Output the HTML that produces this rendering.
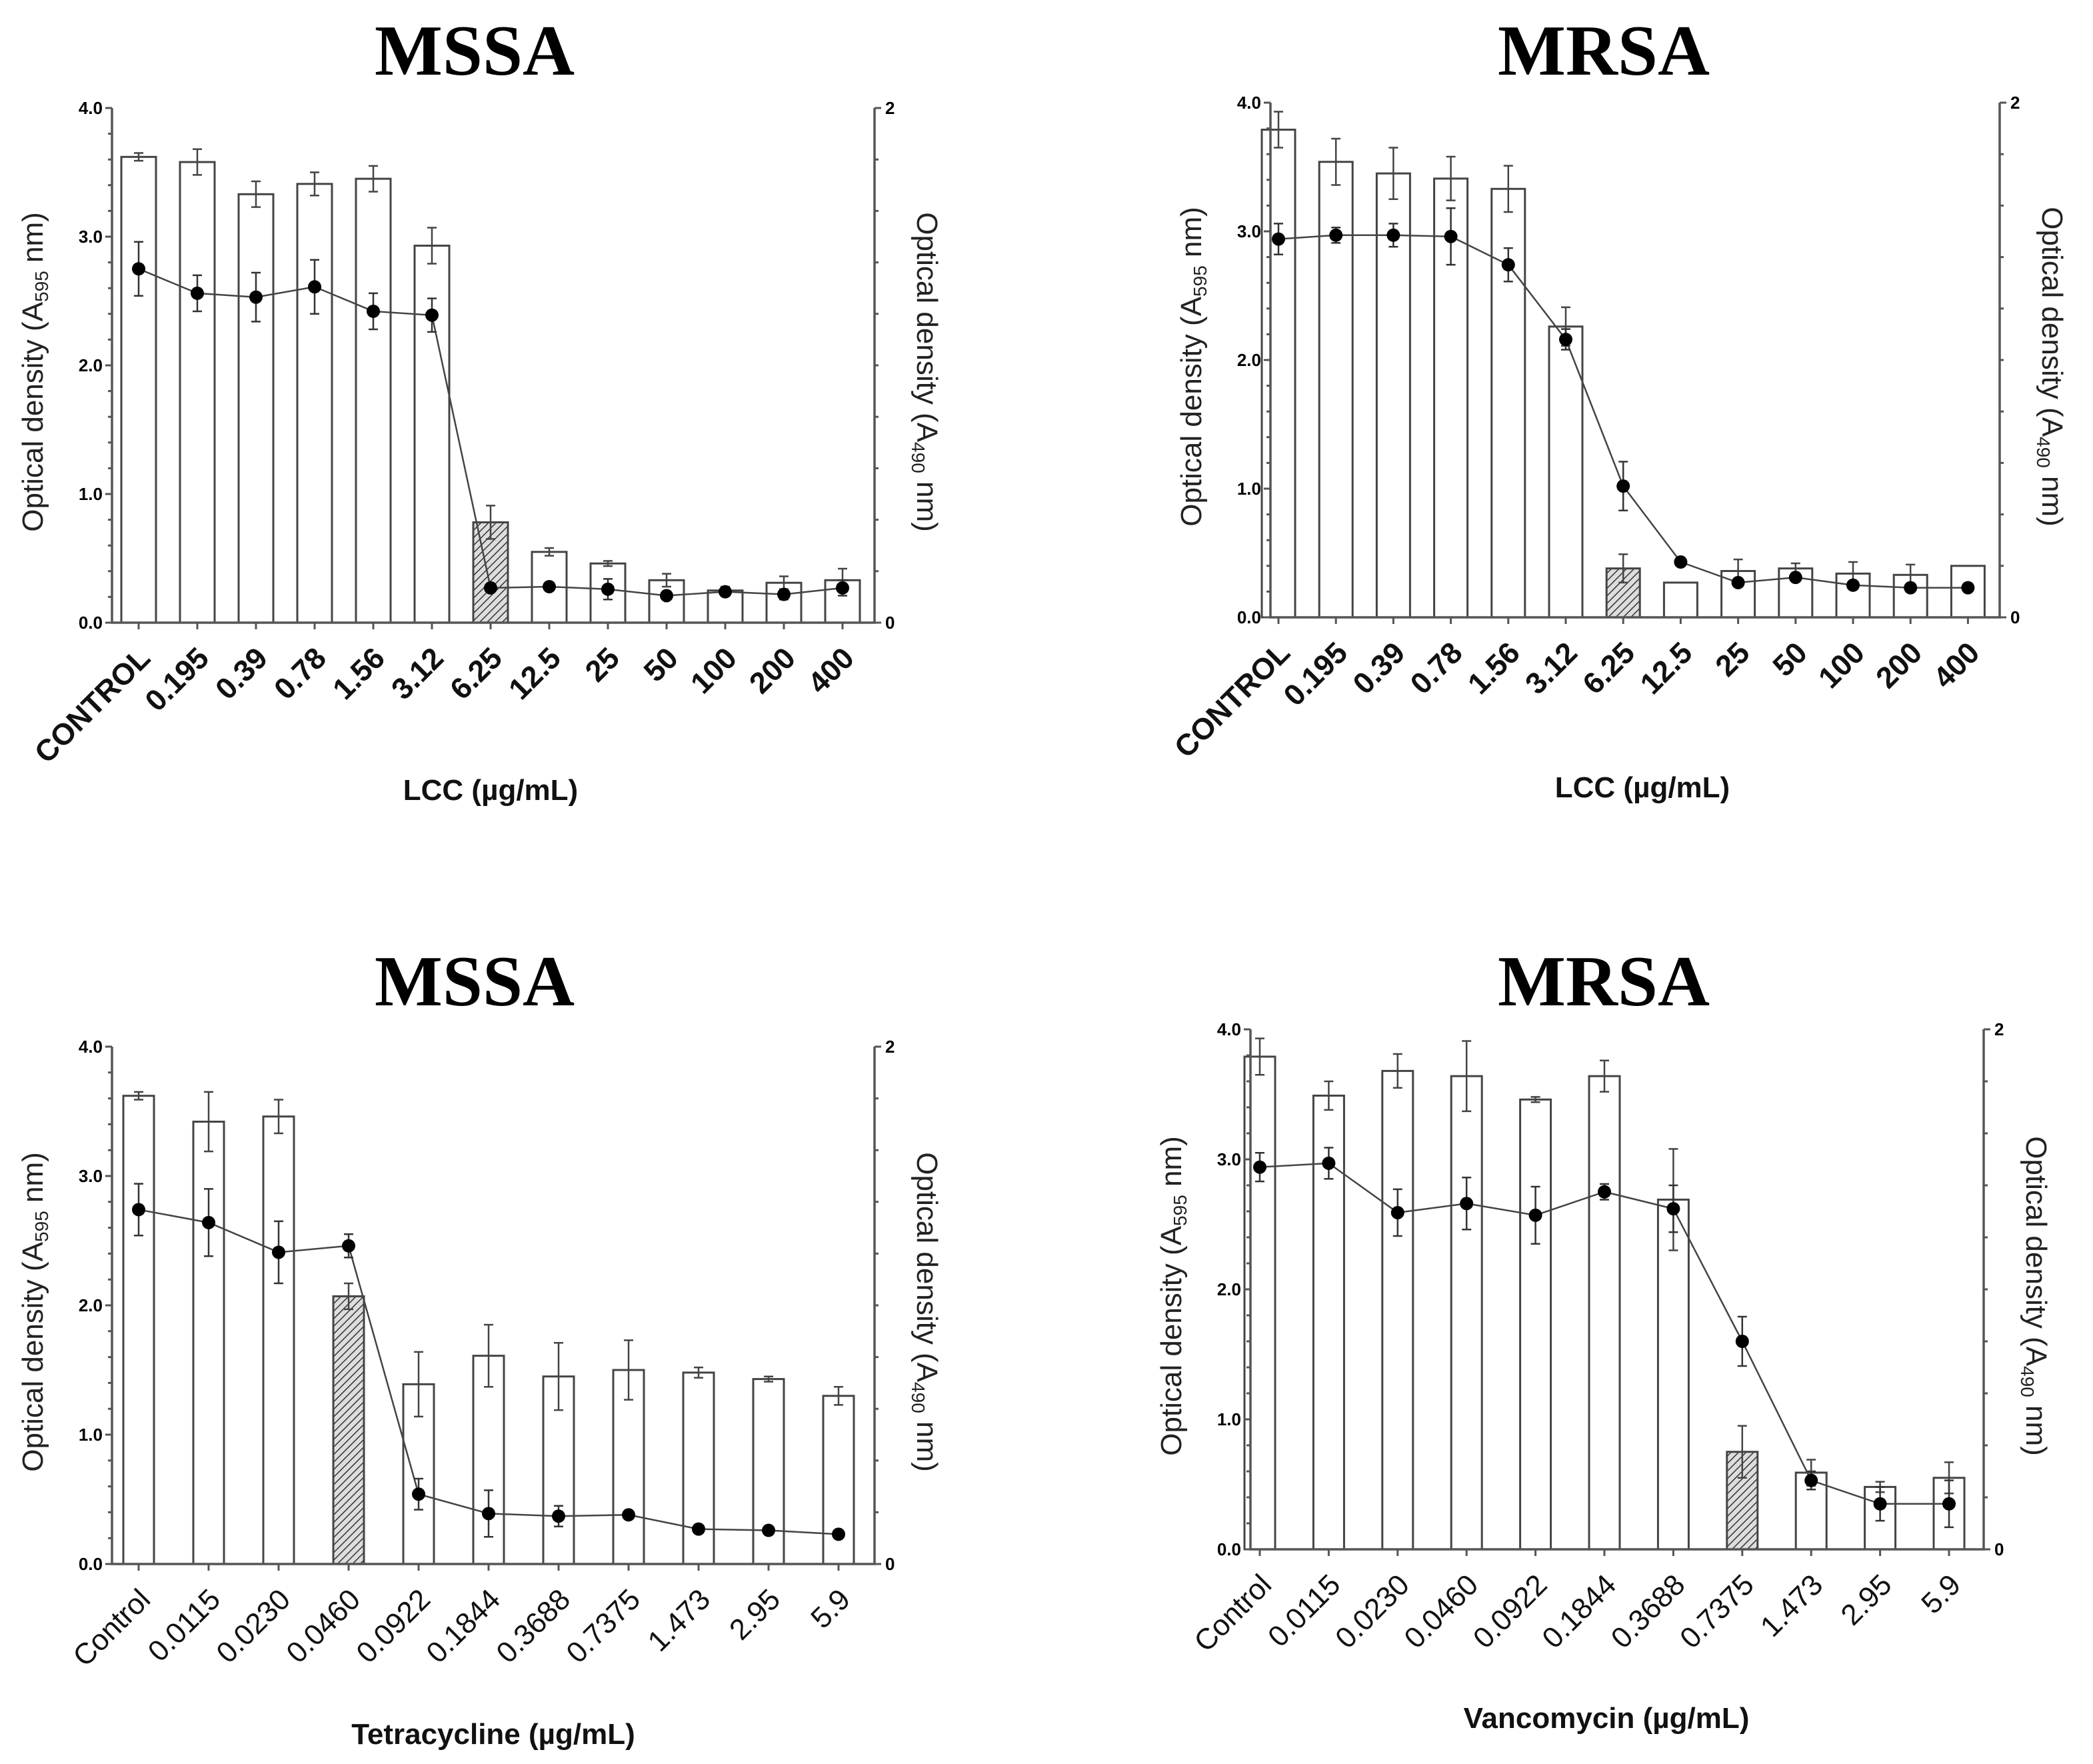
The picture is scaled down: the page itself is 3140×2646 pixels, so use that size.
<!DOCTYPE html>
<html><head><meta charset="utf-8"><style>
html,body{margin:0;padding:0;background:#fff}
svg{display:block}
</style></head><body>
<svg id="fig" width="3140" height="2646" viewBox="0 0 3140 2646" xmlns="http://www.w3.org/2000/svg">
<defs>
<pattern id="hatch" patternUnits="userSpaceOnUse" width="8" height="8" patternTransform="rotate(45)">
<rect width="8" height="8" fill="#ddd"/><line x1="0" y1="0" x2="0" y2="8" stroke="#333" stroke-width="3"/>
</pattern>
</defs>
</svg>
<script>
// ---- data ----
const catsLCC = ["CONTROL","0.195","0.39","0.78","1.56","3.12","6.25","12.5","25","50","100","200","400"];
const catsAntibiotic = ["Control","0.0115","0.0230","0.0460","0.0922","0.1844","0.3688","0.7375","1.473","2.95","5.9"];

const barsTL = [3.62,3.58,3.33,3.41,3.45,2.93,0.78,0.55,0.46,0.33,0.25,0.31,0.33];
const barErrTL = [0.03,0.1,0.1,0.09,0.1,0.14,0.13,0.03,0.02,0.05,0.03,0.05,0.09];
const lineTL = [1.375,1.28,1.265,1.305,1.21,1.195,0.135,0.14,0.13,0.105,0.12,0.11,0.135];
const lineErrTL = [0.105,0.07,0.095,0.105,0.07,0.065,0.01,0.01,0.04,0.01,0.01,0.02,0.03];

const barsTR = [3.79,3.54,3.45,3.41,3.33,2.26,0.38,0.27,0.36,0.38,0.34,0.33,0.4];
const barErrTR = [0.14,0.18,0.2,0.17,0.18,0.15,0.11,0,0.09,0.04,0.09,0.08,0];
const lineTR = [1.47,1.485,1.485,1.48,1.37,1.08,0.51,0.215,0.135,0.155,0.125,0.115,0.115];
const lineErrTR = [0.06,0.03,0.045,0.11,0.065,0.04,0.095,0,0.01,0.01,0.01,0.01,0];

const barsBL = [3.62,3.42,3.46,2.07,1.39,1.61,1.45,1.5,1.48,1.43,1.3];
const barErrBL = [0.03,0.23,0.13,0.1,0.25,0.24,0.26,0.23,0.04,0.02,0.07];
const lineBL = [1.37,1.32,1.205,1.23,0.27,0.195,0.185,0.19,0.135,0.13,0.115];
const lineErrBL = [0.1,0.13,0.12,0.045,0.06,0.09,0.04,0.01,0,0,0];

const barsBR = [3.79,3.49,3.68,3.64,3.46,3.64,2.69,0.75,0.59,0.48,0.55];
const barErrBR = [0.14,0.11,0.13,0.27,0.02,0.12,0.39,0.2,0.1,0.04,0.12];
const lineBR = [1.47,1.485,1.295,1.33,1.285,1.375,1.31,0.8,0.265,0.175,0.175];
const lineErrBR = [0.055,0.06,0.09,0.1,0.11,0.03,0.09,0.095,0.035,0.065,0.09];

const leftTicks = ["0.0","1.0","2.0","3.0","4.0"];
const rightTicks = ["0","2"];

const NS="http://www.w3.org/2000/svg";
const svg=document.getElementById('fig');
function mk(tag,attrs,parent){const e=document.createElementNS(NS,tag);for(const k in attrs)e.setAttribute(k,attrs[k]);(parent||svg).appendChild(e);return e;}

function drawChart(o){
  const g=mk('g',{});
  
  
  const yL=v=>o.yBot-(v/4)*(o.yBot-o.yTop);
  const yR=v=>o.yBot-(v/2)*(o.yBot-o.yTop);
  const xC=i=>o.first+i*o.step;
  const t=mk('text',{x:o.titleX,y:o.titleY,'text-anchor':'middle','font-family':'Liberation Serif, serif','font-weight':'bold','font-size':108,fill:'#000'},g);
  t.textContent=o.title;
  
  
  o.cats.forEach((c,i)=>{
    const v=o.bars[i],e=o.barErr[i],x=xC(i);
    const r=mk('rect',{x:x-o.bw/2,y:yL(v),width:o.bw,height:o.yBot-yL(v),fill:i===o.hatch?'url(#hatch)':'#fff',stroke:'#444','stroke-width':3},g);
    
    
    if(e>0){
      const p=mk('path',{d:`M${x},${yL(v+e)}V${yL(v-e)}M${x-7},${yL(v+e)}H${x+7}M${x-7},${yL(v-e)}H${x+7}`,stroke:'#444','stroke-width':2.5,fill:'none'},g);
      
      
    }
  });
  let d='';
  o.line.forEach((v,i)=>{d+=(i?'L':'M')+xC(i)+','+yR(v);});
  const ln=mk('path',{d:d,stroke:'#444','stroke-width':2.5,fill:'none'},g);
  
  
  o.line.forEach((v,i)=>{
    const e=o.lineErr[i],x=xC(i);
    if(e>0){
      const p=mk('path',{d:`M${x},${yR(v+e)}V${yR(v-e)}M${x-7},${yR(v+e)}H${x+7}M${x-7},${yR(v-e)}H${x+7}`,stroke:'#333','stroke-width':2.5,fill:'none'},g);
      
      
    }
    const c=mk('circle',{cx:x,cy:yR(v),r:10,fill:'#000'},g);
    
    
  });
  const ax=mk('path',{d:`M${o.x0},${o.yTop}V${o.yBot}H${o.x1}V${o.yTop}`,stroke:'#555','stroke-width':3.5,fill:'none'},g);
  
  
  let tk='';
  for(let k=0;k<=20;k++){const y=yL(k*0.2);tk+=`M${o.x0-(k%5?6:10)},${y}H${o.x0}`;}
  for(let k=0;k<=10;k++){const y=yR(k*0.2);tk+=`M${o.x1},${y}H${o.x1+(k%10?6:10)}`;}
  o.cats.forEach((c,i)=>{tk+=`M${xC(i)},${o.yBot}V${o.yBot+10}`;});
  mk('path',{d:tk,stroke:'#555','stroke-width':3,fill:'none'},g);
  leftTicks.forEach(s=>{
    const tt=mk('text',{x:o.x0-14,y:yL(parseFloat(s))+9,'text-anchor':'end','font-family':'Liberation Sans, sans-serif','font-weight':'bold','font-size':26,fill:'#000'},g);
    tt.textContent=s;
    
    
  });
  rightTicks.forEach(s=>{
    const tt=mk('text',{x:o.x1+16,y:yR(parseFloat(s))+9,'font-family':'Liberation Sans, sans-serif','font-weight':'bold','font-size':26,fill:'#000'},g);
    tt.textContent=s;
    
    
  });
  o.cats.forEach((c,i)=>{
    const x=xC(i)+20,y=o.yBot+56;
    const tt=mk('text',{x:x,y:y,'text-anchor':'end',transform:`rotate(-45 ${x} ${y})`,'font-family':'Liberation Sans, sans-serif','font-weight':o.boldX?'bold':'normal','font-size':o.boldX?45:44,fill:'#111'},g);
    tt.textContent=c;
    
    
  });
  const xt=mk('text',{x:o.xtX,y:o.xtY,'text-anchor':'middle','font-family':'Liberation Sans, sans-serif','font-weight':'bold','font-size':44,fill:'#111'},g);
  xt.textContent=o.xTitle;
  
  
  const ym=(o.yTop+o.yBot)/2+10;
  const ly=mk('text',{x:o.x0-104,y:ym,'text-anchor':'middle',transform:`rotate(-90 ${o.x0-104} ${ym})`,'font-family':'Liberation Sans, sans-serif','font-size':44,fill:'#222'},g);
  ly.innerHTML='Optical density (A<tspan font-size="28" dy="8">595</tspan><tspan dy="-8"> nm)</tspan>';
  
  
  const ry=mk('text',{x:o.x1+64,y:ym,'text-anchor':'middle',transform:`rotate(90 ${o.x1+64} ${ym})`,'font-family':'Liberation Sans, sans-serif','font-size':44,fill:'#222'},g);
  ry.innerHTML='Optical density (A<tspan font-size="28" dy="8">490</tspan><tspan dy="-8">  nm)</tspan>';
  
  
}

drawChart({name:'chart-mssa-lcc',title:'MSSA',titleX:712,titleY:112,cats:catsLCC,bars:barsTL,barErr:barErrTL,line:lineTL,lineErr:lineErrTL,hatch:6,
  x0:168,x1:1312,yTop:162,yBot:934,first:208,step:88,bw:52,boldX:true,xTitle:'LCC (µg/mL)',xtX:736,xtY:1200});
drawChart({name:'chart-mrsa-lcc',title:'MRSA',titleX:2406,titleY:112,cats:catsLCC,bars:barsTR,barErr:barErrTR,line:lineTR,lineErr:lineErrTR,hatch:6,
  x0:1906,x1:3000,yTop:154,yBot:926,first:1918,step:86.2,bw:50,boldX:true,xTitle:'LCC (µg/mL)',xtX:2464,xtY:1196});
drawChart({name:'chart-mssa-tetracycline',title:'MSSA',titleX:712,titleY:1508,cats:catsAntibiotic,bars:barsBL,barErr:barErrBL,line:lineBL,lineErr:lineErrBL,hatch:3,
  x0:168,x1:1312,yTop:1570,yBot:2346,first:208,step:105,bw:46,boldX:false,xTitle:'Tetracycline  (µg/mL)',xtX:740,xtY:2616});
drawChart({name:'chart-mrsa-vancomycin',title:'MRSA',titleX:2406,titleY:1508,cats:catsAntibiotic,bars:barsBR,barErr:barErrBR,line:lineBR,lineErr:lineErrBR,hatch:7,
  x0:1876,x1:2976,yTop:1544,yBot:2324,first:1890,step:103.4,bw:46,boldX:false,xTitle:'Vancomycin  (µg/mL)',xtX:2410,xtY:2592});
</script>
</body></html>
